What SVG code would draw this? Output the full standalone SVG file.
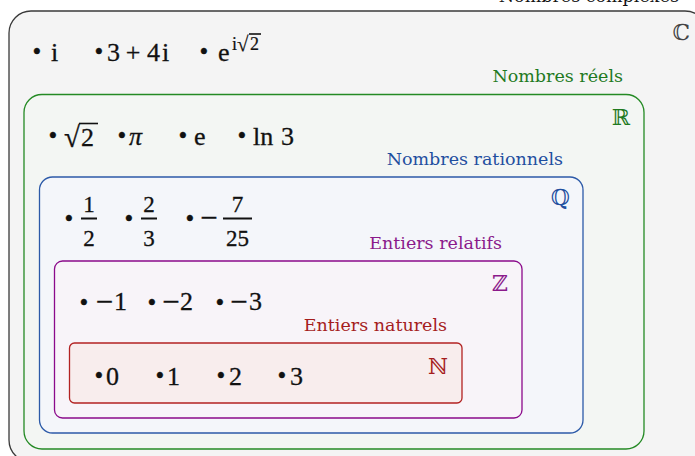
<svg xmlns="http://www.w3.org/2000/svg" width="695" height="456" viewBox="0 0 695 456">
<style>
.lbl{font-family:"DejaVu Serif","Liberation Serif",serif;font-size:17.5px;text-anchor:end}
.sym{font-family:"DejaVu Serif","DejaVu Sans",serif;font-size:22px;text-anchor:end}
.m{font-family:"Liberation Serif",serif;font-size:26px;fill:#111;stroke:#111;stroke-width:0.3}
.b{text-anchor:middle;font-size:25px}
.c{text-anchor:middle}
.mn{font-size:31px}
.fr{font-family:"Liberation Serif",serif;font-size:23px;fill:#111;stroke:#111;stroke-width:0.3;text-anchor:middle}
.sup{font-family:"Liberation Serif",serif;font-size:18px;fill:#111;stroke:#111;stroke-width:0.2}
.bar{stroke:#111;stroke-width:2}
.ov{stroke:#111;stroke-width:1.6}
</style>
<rect width="695" height="456" fill="#ffffff"/>
<g id="complexes">
<rect x="9" y="11" width="698" height="451" rx="22" fill="#f4f4f4" stroke="#3a3a3a" stroke-width="1.3"/>
<text class="lbl" x="679" y="2" fill="#111">Nombres complexes</text>
<text class="sym" x="690" y="40" fill="#444">ℂ</text>
<text class="m b" x="37" y="60">•</text><text class="m" x="51" y="61">i</text>
<text class="m b" x="99" y="60">•</text><text class="m" x="107" y="61">3</text><text class="m c" x="133" y="61">+</text><text class="m" x="147" y="61">4</text><text class="m" x="162" y="61">i</text>
<text class="m b" x="204" y="60">•</text><text class="m" x="218" y="61">e</text><text class="sup" x="232" y="50">i</text><text class="sup" x="237" y="51" style="font-size:21px">√</text><text class="sup" x="250" y="50">2</text>
<line class="ov" x1="249" y1="34" x2="261" y2="34"/>
</g>
<g id="reels">
<rect x="24" y="94.5" width="620" height="354.5" rx="18" fill="#f3f6f3" stroke="#248a24" stroke-width="1.3"/>
<text class="lbl" x="623" y="82" fill="#1f7a1f">Nombres réels</text>
<text class="sym" x="630" y="125" fill="#1f7a1f">ℝ</text>
<text class="m b" x="53" y="144">•</text><text class="m" x="64" y="147" style="font-size:29px">√</text><text class="m" x="81" y="146">2</text>
<line class="ov" x1="79" y1="123.5" x2="98" y2="123.5"/>
<text class="m b" x="122" y="144">•</text><text class="m" x="129" y="145" font-style="italic">π</text>
<text class="m b" x="183" y="144">•</text><text class="m" x="194" y="145">e</text>
<text class="m b" x="242" y="144">•</text><text class="m" x="253" y="145">ln</text><text class="m" x="281" y="145">3</text>
</g>
<g id="rationnels">
<rect x="39.5" y="177" width="543.5" height="256" rx="13" fill="#f4f6fa" stroke="#2c5aa8" stroke-width="1.3"/>
<text class="lbl" x="563" y="165" fill="#1f4f9f">Nombres rationnels</text>
<text class="sym" x="570" y="205" fill="#1f4f9f">ℚ</text>
<text class="m b" x="69" y="227">•</text>
<line class="bar" x1="81" y1="218.5" x2="97" y2="218.5"/><text class="fr" x="89" y="212">1</text><text class="fr" x="89" y="246">2</text>
<text class="m b" x="129" y="227">•</text>
<line class="bar" x1="141" y1="218.5" x2="157" y2="218.5"/><text class="fr" x="149" y="212">2</text><text class="fr" x="149" y="246">3</text>
<text class="m b" x="190" y="227">•</text><text class="m c mn" x="209" y="227.5">−</text>
<line class="bar" x1="223" y1="218.5" x2="252" y2="218.5"/><text class="fr" x="237.5" y="212">7</text><text class="fr" x="237.5" y="246">25</text>
</g>
<g id="relatifs">
<rect x="54.5" y="261" width="467.5" height="157" rx="8" fill="#f8f4f9" stroke="#8b0a8b" stroke-width="1.3"/>
<text class="lbl" x="502" y="249" fill="#8b1a8b">Entiers relatifs</text>
<text class="sym" x="508" y="291" fill="#8b1a8b">ℤ</text>
<text class="m b" x="84" y="311">•</text><text class="m c mn" x="104.5" y="311.5">−</text><text class="m" x="114" y="310">1</text>
<text class="m b" x="152" y="311">•</text><text class="m c mn" x="171" y="311.5">−</text><text class="m" x="180" y="310">2</text>
<text class="m b" x="220" y="311">•</text><text class="m c mn" x="239" y="311.5">−</text><text class="m" x="249" y="310">3</text>
</g>
<g id="naturels">
<rect x="69.5" y="343" width="392.5" height="60" rx="5" fill="#f8eded" stroke="#b22222" stroke-width="1.3"/>
<text class="lbl" x="447" y="331" fill="#a51d1d">Entiers naturels</text>
<text class="sym" x="448" y="374" fill="#a51d1d">ℕ</text>
<text class="m b" x="99" y="384">•</text><text class="m" x="106" y="385">0</text>
<text class="m b" x="160" y="384">•</text><text class="m" x="167" y="385">1</text>
<text class="m b" x="221" y="384">•</text><text class="m" x="229" y="385">2</text>
<text class="m b" x="282" y="384">•</text><text class="m" x="290" y="385">3</text>
</g>
</svg>
